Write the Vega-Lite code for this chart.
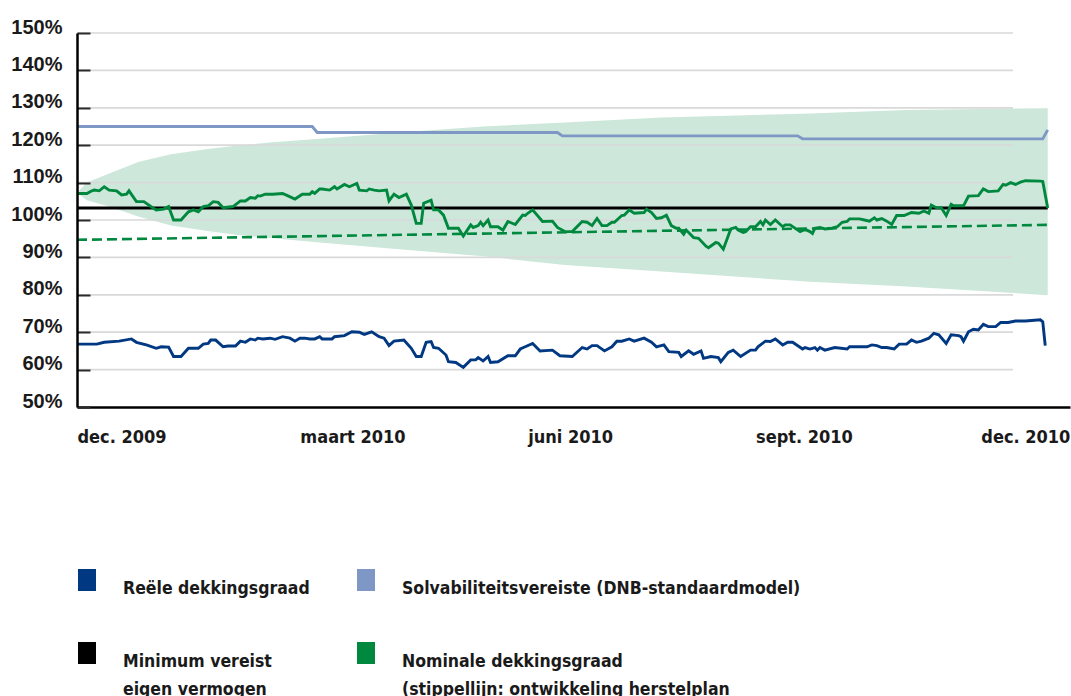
{
  "$schema": "https://vega.github.io/schema/vega-lite/v6.json",
  "width": 993,
  "height": 374,
  "autosize": {"type": "none"},
  "padding": {"left": 77, "top": 33, "right": 1, "bottom": 289},
  "background": "white",
  "config": {"view": {"stroke": null}, "font": "Liberation Sans"},
  "datasets": {
    "bandbreedte": [
      {"datum": "2009-12-01", "boven": 107.3, "onder": 107.3},
      {"datum": "2009-12-05", "boven": 110.0, "onder": 105.3},
      {"datum": "2009-12-14", "boven": 112.4, "onder": 103.6},
      {"datum": "2009-12-26", "boven": 115.6, "onder": 100.9},
      {"datum": "2010-01-08", "boven": 117.6, "onder": 98.5},
      {"datum": "2010-01-22", "boven": 118.9, "onder": 97.1},
      {"datum": "2010-02-04", "boven": 119.9, "onder": 96.0},
      {"datum": "2010-02-18", "boven": 120.8, "onder": 95.1},
      {"datum": "2010-03-09", "boven": 121.7, "onder": 94.0},
      {"datum": "2010-04-10", "boven": 123.4, "onder": 92.2},
      {"datum": "2010-05-14", "boven": 125.0, "onder": 90.3},
      {"datum": "2010-06-16", "boven": 126.1, "onder": 88.0},
      {"datum": "2010-07-25", "boven": 127.4, "onder": 86.2},
      {"datum": "2010-09-23", "boven": 128.5, "onder": 83.5},
      {"datum": "2010-11-01", "boven": 129.4, "onder": 82.2},
      {"datum": "2010-12-28", "boven": 129.9, "onder": 79.9}
    ],
    "raster": [
      {"waarde": 60}, {"waarde": 70}, {"waarde": 80}, {"waarde": 90}, {"waarde": 100},
      {"waarde": 110}, {"waarde": 120}, {"waarde": 130}, {"waarde": 140}, {"waarde": 150}
    ],
    "herstelplan": [
      {"datum": "2009-12-01", "waarde": 94.7},
      {"datum": "2010-12-28", "waarde": 98.7}
    ],
    "reeksen": [
      {"datum": "2009-12-01", "reeks": "Solvabiliteitsvereiste (DNB-standaardmodel)", "waarde": 125.0},
      {"datum": "2010-03-06", "reeks": "Solvabiliteitsvereiste (DNB-standaardmodel)", "waarde": 125.0},
      {"datum": "2010-03-08", "reeks": "Solvabiliteitsvereiste (DNB-standaardmodel)", "waarde": 123.4},
      {"datum": "2010-06-13", "reeks": "Solvabiliteitsvereiste (DNB-standaardmodel)", "waarde": 123.4},
      {"datum": "2010-06-15", "reeks": "Solvabiliteitsvereiste (DNB-standaardmodel)", "waarde": 122.5},
      {"datum": "2010-09-18", "reeks": "Solvabiliteitsvereiste (DNB-standaardmodel)", "waarde": 122.5},
      {"datum": "2010-09-20", "reeks": "Solvabiliteitsvereiste (DNB-standaardmodel)", "waarde": 121.7},
      {"datum": "2010-12-26", "reeks": "Solvabiliteitsvereiste (DNB-standaardmodel)", "waarde": 121.7},
      {"datum": "2010-12-28", "reeks": "Solvabiliteitsvereiste (DNB-standaardmodel)", "waarde": 124.1},
      {"datum": "2009-12-01", "reeks": "Minimum vereist eigen vermogen", "waarde": 103.2},
      {"datum": "2010-12-28", "reeks": "Minimum vereist eigen vermogen", "waarde": 103.2},
      {"datum": "2009-12-01", "reeks": "Reële dekkingsgraad", "waarde": 66.8},
      {"datum": "2009-12-09", "reeks": "Reële dekkingsgraad", "waarde": 66.8},
      {"datum": "2009-12-12", "reeks": "Reële dekkingsgraad", "waarde": 67.3},
      {"datum": "2009-12-18", "reeks": "Reële dekkingsgraad", "waarde": 67.6},
      {"datum": "2009-12-23", "reeks": "Reële dekkingsgraad", "waarde": 68.2},
      {"datum": "2009-12-25", "reeks": "Reële dekkingsgraad", "waarde": 67.3},
      {"datum": "2009-12-29", "reeks": "Reële dekkingsgraad", "waarde": 66.6},
      {"datum": "2010-01-02", "reeks": "Reële dekkingsgraad", "waarde": 65.7},
      {"datum": "2010-01-04", "reeks": "Reële dekkingsgraad", "waarde": 66.1},
      {"datum": "2010-01-07", "reeks": "Reële dekkingsgraad", "waarde": 66.0},
      {"datum": "2010-01-09", "reeks": "Reële dekkingsgraad", "waarde": 63.5},
      {"datum": "2010-01-12", "reeks": "Reële dekkingsgraad", "waarde": 63.5},
      {"datum": "2010-01-15", "reeks": "Reële dekkingsgraad", "waarde": 65.7},
      {"datum": "2010-01-19", "reeks": "Reële dekkingsgraad", "waarde": 65.7},
      {"datum": "2010-01-21", "reeks": "Reële dekkingsgraad", "waarde": 66.8},
      {"datum": "2010-01-23", "reeks": "Reële dekkingsgraad", "waarde": 67.0},
      {"datum": "2010-01-24", "reeks": "Reële dekkingsgraad", "waarde": 67.9},
      {"datum": "2010-01-26", "reeks": "Reële dekkingsgraad", "waarde": 67.9},
      {"datum": "2010-01-29", "reeks": "Reële dekkingsgraad", "waarde": 66.1},
      {"datum": "2010-01-31", "reeks": "Reële dekkingsgraad", "waarde": 66.3},
      {"datum": "2010-02-03", "reeks": "Reële dekkingsgraad", "waarde": 66.3},
      {"datum": "2010-02-05", "reeks": "Reële dekkingsgraad", "waarde": 67.6},
      {"datum": "2010-02-07", "reeks": "Reële dekkingsgraad", "waarde": 67.3},
      {"datum": "2010-02-09", "reeks": "Reële dekkingsgraad", "waarde": 68.2},
      {"datum": "2010-02-11", "reeks": "Reële dekkingsgraad", "waarde": 67.9},
      {"datum": "2010-02-12", "reeks": "Reële dekkingsgraad", "waarde": 68.4},
      {"datum": "2010-02-14", "reeks": "Reële dekkingsgraad", "waarde": 68.2},
      {"datum": "2010-02-17", "reeks": "Reële dekkingsgraad", "waarde": 68.4},
      {"datum": "2010-02-19", "reeks": "Reële dekkingsgraad", "waarde": 68.1},
      {"datum": "2010-02-22", "reeks": "Reële dekkingsgraad", "waarde": 68.8},
      {"datum": "2010-02-25", "reeks": "Reële dekkingsgraad", "waarde": 68.4},
      {"datum": "2010-02-27", "reeks": "Reële dekkingsgraad", "waarde": 67.6},
      {"datum": "2010-03-01", "reeks": "Reële dekkingsgraad", "waarde": 68.4},
      {"datum": "2010-03-03", "reeks": "Reële dekkingsgraad", "waarde": 68.4},
      {"datum": "2010-03-05", "reeks": "Reële dekkingsgraad", "waarde": 68.2},
      {"datum": "2010-03-07", "reeks": "Reële dekkingsgraad", "waarde": 68.2},
      {"datum": "2010-03-09", "reeks": "Reële dekkingsgraad", "waarde": 68.8},
      {"datum": "2010-03-10", "reeks": "Reële dekkingsgraad", "waarde": 68.2},
      {"datum": "2010-03-14", "reeks": "Reële dekkingsgraad", "waarde": 68.2},
      {"datum": "2010-03-15", "reeks": "Reële dekkingsgraad", "waarde": 68.8},
      {"datum": "2010-03-19", "reeks": "Reële dekkingsgraad", "waarde": 69.1},
      {"datum": "2010-03-22", "reeks": "Reële dekkingsgraad", "waarde": 70.1},
      {"datum": "2010-03-25", "reeks": "Reële dekkingsgraad", "waarde": 70.0},
      {"datum": "2010-03-27", "reeks": "Reële dekkingsgraad", "waarde": 69.4},
      {"datum": "2010-03-30", "reeks": "Reële dekkingsgraad", "waarde": 70.1},
      {"datum": "2010-04-02", "reeks": "Reële dekkingsgraad", "waarde": 68.8},
      {"datum": "2010-04-04", "reeks": "Reële dekkingsgraad", "waarde": 68.4},
      {"datum": "2010-04-06", "reeks": "Reële dekkingsgraad", "waarde": 66.4},
      {"datum": "2010-04-08", "reeks": "Reële dekkingsgraad", "waarde": 67.6},
      {"datum": "2010-04-12", "reeks": "Reële dekkingsgraad", "waarde": 67.9},
      {"datum": "2010-04-15", "reeks": "Reële dekkingsgraad", "waarde": 65.7},
      {"datum": "2010-04-17", "reeks": "Reële dekkingsgraad", "waarde": 63.5},
      {"datum": "2010-04-19", "reeks": "Reële dekkingsgraad", "waarde": 63.5},
      {"datum": "2010-04-21", "reeks": "Reële dekkingsgraad", "waarde": 67.3},
      {"datum": "2010-04-23", "reeks": "Reële dekkingsgraad", "waarde": 67.5},
      {"datum": "2010-04-24", "reeks": "Reële dekkingsgraad", "waarde": 65.9},
      {"datum": "2010-04-26", "reeks": "Reële dekkingsgraad", "waarde": 65.7},
      {"datum": "2010-04-29", "reeks": "Reële dekkingsgraad", "waarde": 63.9},
      {"datum": "2010-04-30", "reeks": "Reële dekkingsgraad", "waarde": 62.1},
      {"datum": "2010-05-03", "reeks": "Reële dekkingsgraad", "waarde": 61.9},
      {"datum": "2010-05-06", "reeks": "Reële dekkingsgraad", "waarde": 60.6},
      {"datum": "2010-05-09", "reeks": "Reële dekkingsgraad", "waarde": 62.6},
      {"datum": "2010-05-11", "reeks": "Reële dekkingsgraad", "waarde": 62.6},
      {"datum": "2010-05-12", "reeks": "Reële dekkingsgraad", "waarde": 63.2},
      {"datum": "2010-05-14", "reeks": "Reële dekkingsgraad", "waarde": 62.3},
      {"datum": "2010-05-16", "reeks": "Reële dekkingsgraad", "waarde": 63.5},
      {"datum": "2010-05-17", "reeks": "Reële dekkingsgraad", "waarde": 61.9},
      {"datum": "2010-05-20", "reeks": "Reële dekkingsgraad", "waarde": 62.1},
      {"datum": "2010-05-24", "reeks": "Reële dekkingsgraad", "waarde": 63.7},
      {"datum": "2010-05-27", "reeks": "Reële dekkingsgraad", "waarde": 63.7},
      {"datum": "2010-05-29", "reeks": "Reële dekkingsgraad", "waarde": 65.5},
      {"datum": "2010-05-31", "reeks": "Reële dekkingsgraad", "waarde": 66.1},
      {"datum": "2010-06-03", "reeks": "Reële dekkingsgraad", "waarde": 67.0},
      {"datum": "2010-06-06", "reeks": "Reële dekkingsgraad", "waarde": 65.0},
      {"datum": "2010-06-11", "reeks": "Reële dekkingsgraad", "waarde": 65.2},
      {"datum": "2010-06-14", "reeks": "Reële dekkingsgraad", "waarde": 63.7},
      {"datum": "2010-06-19", "reeks": "Reële dekkingsgraad", "waarde": 63.5},
      {"datum": "2010-06-23", "reeks": "Reële dekkingsgraad", "waarde": 65.9},
      {"datum": "2010-06-25", "reeks": "Reële dekkingsgraad", "waarde": 65.5},
      {"datum": "2010-06-27", "reeks": "Reële dekkingsgraad", "waarde": 66.4},
      {"datum": "2010-06-29", "reeks": "Reële dekkingsgraad", "waarde": 66.4},
      {"datum": "2010-07-02", "reeks": "Reële dekkingsgraad", "waarde": 65.0},
      {"datum": "2010-07-05", "reeks": "Reële dekkingsgraad", "waarde": 66.1},
      {"datum": "2010-07-07", "reeks": "Reële dekkingsgraad", "waarde": 67.6},
      {"datum": "2010-07-09", "reeks": "Reële dekkingsgraad", "waarde": 67.6},
      {"datum": "2010-07-12", "reeks": "Reële dekkingsgraad", "waarde": 68.2},
      {"datum": "2010-07-14", "reeks": "Reële dekkingsgraad", "waarde": 67.6},
      {"datum": "2010-07-18", "reeks": "Reële dekkingsgraad", "waarde": 68.4},
      {"datum": "2010-07-21", "reeks": "Reële dekkingsgraad", "waarde": 67.3},
      {"datum": "2010-07-23", "reeks": "Reële dekkingsgraad", "waarde": 66.1},
      {"datum": "2010-07-26", "reeks": "Reële dekkingsgraad", "waarde": 66.6},
      {"datum": "2010-07-28", "reeks": "Reële dekkingsgraad", "waarde": 64.8},
      {"datum": "2010-08-01", "reeks": "Reële dekkingsgraad", "waarde": 64.6},
      {"datum": "2010-08-02", "reeks": "Reële dekkingsgraad", "waarde": 63.5},
      {"datum": "2010-08-05", "reeks": "Reële dekkingsgraad", "waarde": 65.0},
      {"datum": "2010-08-07", "reeks": "Reële dekkingsgraad", "waarde": 64.1},
      {"datum": "2010-08-10", "reeks": "Reële dekkingsgraad", "waarde": 65.0},
      {"datum": "2010-08-11", "reeks": "Reële dekkingsgraad", "waarde": 63.0},
      {"datum": "2010-08-14", "reeks": "Reële dekkingsgraad", "waarde": 63.5},
      {"datum": "2010-08-17", "reeks": "Reële dekkingsgraad", "waarde": 63.2},
      {"datum": "2010-08-18", "reeks": "Reële dekkingsgraad", "waarde": 62.1},
      {"datum": "2010-08-21", "reeks": "Reële dekkingsgraad", "waarde": 64.6},
      {"datum": "2010-08-23", "reeks": "Reële dekkingsgraad", "waarde": 65.2},
      {"datum": "2010-08-26", "reeks": "Reële dekkingsgraad", "waarde": 63.5},
      {"datum": "2010-08-30", "reeks": "Reële dekkingsgraad", "waarde": 65.2},
      {"datum": "2010-09-01", "reeks": "Reële dekkingsgraad", "waarde": 65.2},
      {"datum": "2010-09-02", "reeks": "Reële dekkingsgraad", "waarde": 66.1},
      {"datum": "2010-09-05", "reeks": "Reële dekkingsgraad", "waarde": 67.6},
      {"datum": "2010-09-07", "reeks": "Reële dekkingsgraad", "waarde": 67.5},
      {"datum": "2010-09-09", "reeks": "Reële dekkingsgraad", "waarde": 68.2},
      {"datum": "2010-09-12", "reeks": "Reële dekkingsgraad", "waarde": 66.6},
      {"datum": "2010-09-14", "reeks": "Reële dekkingsgraad", "waarde": 67.3},
      {"datum": "2010-09-16", "reeks": "Reële dekkingsgraad", "waarde": 67.3},
      {"datum": "2010-09-20", "reeks": "Reële dekkingsgraad", "waarde": 65.5},
      {"datum": "2010-09-21", "reeks": "Reële dekkingsgraad", "waarde": 65.9},
      {"datum": "2010-09-23", "reeks": "Reële dekkingsgraad", "waarde": 65.5},
      {"datum": "2010-09-25", "reeks": "Reële dekkingsgraad", "waarde": 65.9},
      {"datum": "2010-09-26", "reeks": "Reële dekkingsgraad", "waarde": 65.2},
      {"datum": "2010-09-27", "reeks": "Reële dekkingsgraad", "waarde": 65.9},
      {"datum": "2010-09-29", "reeks": "Reële dekkingsgraad", "waarde": 65.2},
      {"datum": "2010-10-03", "reeks": "Reële dekkingsgraad", "waarde": 65.9},
      {"datum": "2010-10-08", "reeks": "Reële dekkingsgraad", "waarde": 65.5},
      {"datum": "2010-10-09", "reeks": "Reële dekkingsgraad", "waarde": 66.1},
      {"datum": "2010-10-16", "reeks": "Reële dekkingsgraad", "waarde": 66.1},
      {"datum": "2010-10-18", "reeks": "Reële dekkingsgraad", "waarde": 66.6},
      {"datum": "2010-10-20", "reeks": "Reële dekkingsgraad", "waarde": 66.4},
      {"datum": "2010-10-22", "reeks": "Reële dekkingsgraad", "waarde": 65.9},
      {"datum": "2010-10-24", "reeks": "Reële dekkingsgraad", "waarde": 65.9},
      {"datum": "2010-10-27", "reeks": "Reële dekkingsgraad", "waarde": 65.5},
      {"datum": "2010-10-29", "reeks": "Reële dekkingsgraad", "waarde": 66.8},
      {"datum": "2010-11-01", "reeks": "Reële dekkingsgraad", "waarde": 66.8},
      {"datum": "2010-11-03", "reeks": "Reële dekkingsgraad", "waarde": 67.9},
      {"datum": "2010-11-05", "reeks": "Reële dekkingsgraad", "waarde": 67.3},
      {"datum": "2010-11-07", "reeks": "Reële dekkingsgraad", "waarde": 67.6},
      {"datum": "2010-11-10", "reeks": "Reële dekkingsgraad", "waarde": 68.4},
      {"datum": "2010-11-12", "reeks": "Reële dekkingsgraad", "waarde": 69.7},
      {"datum": "2010-11-14", "reeks": "Reële dekkingsgraad", "waarde": 69.3},
      {"datum": "2010-11-17", "reeks": "Reële dekkingsgraad", "waarde": 67.0},
      {"datum": "2010-11-19", "reeks": "Reële dekkingsgraad", "waarde": 69.3},
      {"datum": "2010-11-22", "reeks": "Reële dekkingsgraad", "waarde": 69.1},
      {"datum": "2010-11-23", "reeks": "Reële dekkingsgraad", "waarde": 68.8},
      {"datum": "2010-11-24", "reeks": "Reële dekkingsgraad", "waarde": 67.6},
      {"datum": "2010-11-26", "reeks": "Reële dekkingsgraad", "waarde": 70.1},
      {"datum": "2010-11-28", "reeks": "Reële dekkingsgraad", "waarde": 70.8},
      {"datum": "2010-11-30", "reeks": "Reële dekkingsgraad", "waarde": 70.6},
      {"datum": "2010-12-02", "reeks": "Reële dekkingsgraad", "waarde": 72.1},
      {"datum": "2010-12-04", "reeks": "Reële dekkingsgraad", "waarde": 71.5},
      {"datum": "2010-12-07", "reeks": "Reële dekkingsgraad", "waarde": 71.5},
      {"datum": "2010-12-09", "reeks": "Reële dekkingsgraad", "waarde": 72.6},
      {"datum": "2010-12-12", "reeks": "Reële dekkingsgraad", "waarde": 72.6},
      {"datum": "2010-12-15", "reeks": "Reële dekkingsgraad", "waarde": 73.0},
      {"datum": "2010-12-19", "reeks": "Reële dekkingsgraad", "waarde": 73.0},
      {"datum": "2010-12-25", "reeks": "Reële dekkingsgraad", "waarde": 73.3},
      {"datum": "2010-12-26", "reeks": "Reële dekkingsgraad", "waarde": 72.8},
      {"datum": "2010-12-27", "reeks": "Reële dekkingsgraad", "waarde": 66.4},
      {"datum": "2009-12-01", "reeks": "Nominale dekkingsgraad", "waarde": 107.1},
      {"datum": "2009-12-05", "reeks": "Nominale dekkingsgraad", "waarde": 107.1},
      {"datum": "2009-12-07", "reeks": "Nominale dekkingsgraad", "waarde": 107.8},
      {"datum": "2009-12-08", "reeks": "Nominale dekkingsgraad", "waarde": 108.0},
      {"datum": "2009-12-10", "reeks": "Nominale dekkingsgraad", "waarde": 107.8},
      {"datum": "2009-12-12", "reeks": "Nominale dekkingsgraad", "waarde": 108.9},
      {"datum": "2009-12-14", "reeks": "Nominale dekkingsgraad", "waarde": 108.0},
      {"datum": "2009-12-17", "reeks": "Nominale dekkingsgraad", "waarde": 107.8},
      {"datum": "2009-12-19", "reeks": "Nominale dekkingsgraad", "waarde": 106.7},
      {"datum": "2009-12-21", "reeks": "Nominale dekkingsgraad", "waarde": 106.9},
      {"datum": "2009-12-22", "reeks": "Nominale dekkingsgraad", "waarde": 107.8},
      {"datum": "2009-12-25", "reeks": "Nominale dekkingsgraad", "waarde": 104.9},
      {"datum": "2009-12-28", "reeks": "Nominale dekkingsgraad", "waarde": 104.9},
      {"datum": "2010-01-01", "reeks": "Nominale dekkingsgraad", "waarde": 103.1},
      {"datum": "2010-01-02", "reeks": "Nominale dekkingsgraad", "waarde": 102.7},
      {"datum": "2010-01-05", "reeks": "Nominale dekkingsgraad", "waarde": 102.9},
      {"datum": "2010-01-07", "reeks": "Nominale dekkingsgraad", "waarde": 103.6},
      {"datum": "2010-01-09", "reeks": "Nominale dekkingsgraad", "waarde": 100.0},
      {"datum": "2010-01-12", "reeks": "Nominale dekkingsgraad", "waarde": 100.0},
      {"datum": "2010-01-15", "reeks": "Nominale dekkingsgraad", "waarde": 102.2},
      {"datum": "2010-01-17", "reeks": "Nominale dekkingsgraad", "waarde": 102.7},
      {"datum": "2010-01-19", "reeks": "Nominale dekkingsgraad", "waarde": 102.2},
      {"datum": "2010-01-21", "reeks": "Nominale dekkingsgraad", "waarde": 103.6},
      {"datum": "2010-01-23", "reeks": "Nominale dekkingsgraad", "waarde": 103.8},
      {"datum": "2010-01-25", "reeks": "Nominale dekkingsgraad", "waarde": 104.9},
      {"datum": "2010-01-27", "reeks": "Nominale dekkingsgraad", "waarde": 104.7},
      {"datum": "2010-01-29", "reeks": "Nominale dekkingsgraad", "waarde": 103.3},
      {"datum": "2010-02-02", "reeks": "Nominale dekkingsgraad", "waarde": 103.6},
      {"datum": "2010-02-05", "reeks": "Nominale dekkingsgraad", "waarde": 105.1},
      {"datum": "2010-02-07", "reeks": "Nominale dekkingsgraad", "waarde": 105.1},
      {"datum": "2010-02-09", "reeks": "Nominale dekkingsgraad", "waarde": 106.0},
      {"datum": "2010-02-11", "reeks": "Nominale dekkingsgraad", "waarde": 105.8},
      {"datum": "2010-02-12", "reeks": "Nominale dekkingsgraad", "waarde": 106.5},
      {"datum": "2010-02-13", "reeks": "Nominale dekkingsgraad", "waarde": 106.4},
      {"datum": "2010-02-15", "reeks": "Nominale dekkingsgraad", "waarde": 106.9},
      {"datum": "2010-02-18", "reeks": "Nominale dekkingsgraad", "waarde": 106.9},
      {"datum": "2010-02-22", "reeks": "Nominale dekkingsgraad", "waarde": 107.1},
      {"datum": "2010-02-24", "reeks": "Nominale dekkingsgraad", "waarde": 106.5},
      {"datum": "2010-02-27", "reeks": "Nominale dekkingsgraad", "waarde": 105.6},
      {"datum": "2010-03-02", "reeks": "Nominale dekkingsgraad", "waarde": 106.9},
      {"datum": "2010-03-05", "reeks": "Nominale dekkingsgraad", "waarde": 106.9},
      {"datum": "2010-03-06", "reeks": "Nominale dekkingsgraad", "waarde": 107.6},
      {"datum": "2010-03-07", "reeks": "Nominale dekkingsgraad", "waarde": 107.1},
      {"datum": "2010-03-09", "reeks": "Nominale dekkingsgraad", "waarde": 108.3},
      {"datum": "2010-03-10", "reeks": "Nominale dekkingsgraad", "waarde": 108.3},
      {"datum": "2010-03-13", "reeks": "Nominale dekkingsgraad", "waarde": 108.0},
      {"datum": "2010-03-15", "reeks": "Nominale dekkingsgraad", "waarde": 108.9},
      {"datum": "2010-03-16", "reeks": "Nominale dekkingsgraad", "waarde": 108.3},
      {"datum": "2010-03-19", "reeks": "Nominale dekkingsgraad", "waarde": 109.5},
      {"datum": "2010-03-21", "reeks": "Nominale dekkingsgraad", "waarde": 108.9},
      {"datum": "2010-03-24", "reeks": "Nominale dekkingsgraad", "waarde": 109.8},
      {"datum": "2010-03-25", "reeks": "Nominale dekkingsgraad", "waarde": 108.0},
      {"datum": "2010-03-28", "reeks": "Nominale dekkingsgraad", "waarde": 107.8},
      {"datum": "2010-03-29", "reeks": "Nominale dekkingsgraad", "waarde": 108.3},
      {"datum": "2010-03-31", "reeks": "Nominale dekkingsgraad", "waarde": 108.0},
      {"datum": "2010-04-02", "reeks": "Nominale dekkingsgraad", "waarde": 107.8},
      {"datum": "2010-04-05", "reeks": "Nominale dekkingsgraad", "waarde": 108.0},
      {"datum": "2010-04-06", "reeks": "Nominale dekkingsgraad", "waarde": 105.1},
      {"datum": "2010-04-08", "reeks": "Nominale dekkingsgraad", "waarde": 106.9},
      {"datum": "2010-04-10", "reeks": "Nominale dekkingsgraad", "waarde": 106.0},
      {"datum": "2010-04-13", "reeks": "Nominale dekkingsgraad", "waarde": 106.9},
      {"datum": "2010-04-15", "reeks": "Nominale dekkingsgraad", "waarde": 104.0},
      {"datum": "2010-04-17", "reeks": "Nominale dekkingsgraad", "waarde": 99.1},
      {"datum": "2010-04-19", "reeks": "Nominale dekkingsgraad", "waarde": 99.1},
      {"datum": "2010-04-20", "reeks": "Nominale dekkingsgraad", "waarde": 104.5},
      {"datum": "2010-04-23", "reeks": "Nominale dekkingsgraad", "waarde": 105.3},
      {"datum": "2010-04-24", "reeks": "Nominale dekkingsgraad", "waarde": 102.7},
      {"datum": "2010-04-26", "reeks": "Nominale dekkingsgraad", "waarde": 102.7},
      {"datum": "2010-04-28", "reeks": "Nominale dekkingsgraad", "waarde": 101.3},
      {"datum": "2010-04-30", "reeks": "Nominale dekkingsgraad", "waarde": 97.8},
      {"datum": "2010-05-04", "reeks": "Nominale dekkingsgraad", "waarde": 97.8},
      {"datum": "2010-05-06", "reeks": "Nominale dekkingsgraad", "waarde": 95.7},
      {"datum": "2010-05-09", "reeks": "Nominale dekkingsgraad", "waarde": 98.7},
      {"datum": "2010-05-10", "reeks": "Nominale dekkingsgraad", "waarde": 98.0},
      {"datum": "2010-05-12", "reeks": "Nominale dekkingsgraad", "waarde": 98.5},
      {"datum": "2010-05-13", "reeks": "Nominale dekkingsgraad", "waarde": 99.4},
      {"datum": "2010-05-14", "reeks": "Nominale dekkingsgraad", "waarde": 98.5},
      {"datum": "2010-05-16", "reeks": "Nominale dekkingsgraad", "waarde": 100.0},
      {"datum": "2010-05-17", "reeks": "Nominale dekkingsgraad", "waarde": 98.2},
      {"datum": "2010-05-20", "reeks": "Nominale dekkingsgraad", "waarde": 98.2},
      {"datum": "2010-05-22", "reeks": "Nominale dekkingsgraad", "waarde": 97.3},
      {"datum": "2010-05-24", "reeks": "Nominale dekkingsgraad", "waarde": 99.6},
      {"datum": "2010-05-27", "reeks": "Nominale dekkingsgraad", "waarde": 98.8},
      {"datum": "2010-05-30", "reeks": "Nominale dekkingsgraad", "waarde": 101.3},
      {"datum": "2010-05-31", "reeks": "Nominale dekkingsgraad", "waarde": 101.2},
      {"datum": "2010-06-01", "reeks": "Nominale dekkingsgraad", "waarde": 101.8},
      {"datum": "2010-06-03", "reeks": "Nominale dekkingsgraad", "waarde": 102.7},
      {"datum": "2010-06-07", "reeks": "Nominale dekkingsgraad", "waarde": 99.6},
      {"datum": "2010-06-11", "reeks": "Nominale dekkingsgraad", "waarde": 99.7},
      {"datum": "2010-06-13", "reeks": "Nominale dekkingsgraad", "waarde": 98.0},
      {"datum": "2010-06-16", "reeks": "Nominale dekkingsgraad", "waarde": 96.9},
      {"datum": "2010-06-19", "reeks": "Nominale dekkingsgraad", "waarde": 96.9},
      {"datum": "2010-06-23", "reeks": "Nominale dekkingsgraad", "waarde": 99.6},
      {"datum": "2010-06-25", "reeks": "Nominale dekkingsgraad", "waarde": 99.4},
      {"datum": "2010-06-27", "reeks": "Nominale dekkingsgraad", "waarde": 98.5},
      {"datum": "2010-06-29", "reeks": "Nominale dekkingsgraad", "waarde": 100.4},
      {"datum": "2010-07-01", "reeks": "Nominale dekkingsgraad", "waarde": 98.5},
      {"datum": "2010-07-03", "reeks": "Nominale dekkingsgraad", "waarde": 98.5},
      {"datum": "2010-07-05", "reeks": "Nominale dekkingsgraad", "waarde": 99.4},
      {"datum": "2010-07-06", "reeks": "Nominale dekkingsgraad", "waarde": 99.4},
      {"datum": "2010-07-09", "reeks": "Nominale dekkingsgraad", "waarde": 101.2},
      {"datum": "2010-07-10", "reeks": "Nominale dekkingsgraad", "waarde": 101.3},
      {"datum": "2010-07-12", "reeks": "Nominale dekkingsgraad", "waarde": 102.7},
      {"datum": "2010-07-14", "reeks": "Nominale dekkingsgraad", "waarde": 101.8},
      {"datum": "2010-07-18", "reeks": "Nominale dekkingsgraad", "waarde": 102.0},
      {"datum": "2010-07-19", "reeks": "Nominale dekkingsgraad", "waarde": 102.9},
      {"datum": "2010-07-21", "reeks": "Nominale dekkingsgraad", "waarde": 102.0},
      {"datum": "2010-07-23", "reeks": "Nominale dekkingsgraad", "waarde": 100.4},
      {"datum": "2010-07-25", "reeks": "Nominale dekkingsgraad", "waarde": 100.6},
      {"datum": "2010-07-27", "reeks": "Nominale dekkingsgraad", "waarde": 101.3},
      {"datum": "2010-07-29", "reeks": "Nominale dekkingsgraad", "waarde": 98.5},
      {"datum": "2010-07-31", "reeks": "Nominale dekkingsgraad", "waarde": 97.8},
      {"datum": "2010-08-01", "reeks": "Nominale dekkingsgraad", "waarde": 97.8},
      {"datum": "2010-08-03", "reeks": "Nominale dekkingsgraad", "waarde": 96.2},
      {"datum": "2010-08-04", "reeks": "Nominale dekkingsgraad", "waarde": 97.3},
      {"datum": "2010-08-07", "reeks": "Nominale dekkingsgraad", "waarde": 95.3},
      {"datum": "2010-08-09", "reeks": "Nominale dekkingsgraad", "waarde": 95.1},
      {"datum": "2010-08-12", "reeks": "Nominale dekkingsgraad", "waarde": 93.0},
      {"datum": "2010-08-13", "reeks": "Nominale dekkingsgraad", "waarde": 92.6},
      {"datum": "2010-08-16", "reeks": "Nominale dekkingsgraad", "waarde": 94.0},
      {"datum": "2010-08-17", "reeks": "Nominale dekkingsgraad", "waarde": 93.8},
      {"datum": "2010-08-19", "reeks": "Nominale dekkingsgraad", "waarde": 92.2},
      {"datum": "2010-08-22", "reeks": "Nominale dekkingsgraad", "waarde": 97.6},
      {"datum": "2010-08-24", "reeks": "Nominale dekkingsgraad", "waarde": 98.0},
      {"datum": "2010-08-25", "reeks": "Nominale dekkingsgraad", "waarde": 97.3},
      {"datum": "2010-08-27", "reeks": "Nominale dekkingsgraad", "waarde": 96.7},
      {"datum": "2010-08-28", "reeks": "Nominale dekkingsgraad", "waarde": 96.9},
      {"datum": "2010-08-30", "reeks": "Nominale dekkingsgraad", "waarde": 98.2},
      {"datum": "2010-09-01", "reeks": "Nominale dekkingsgraad", "waarde": 98.2},
      {"datum": "2010-09-03", "reeks": "Nominale dekkingsgraad", "waarde": 99.6},
      {"datum": "2010-09-04", "reeks": "Nominale dekkingsgraad", "waarde": 98.7},
      {"datum": "2010-09-05", "reeks": "Nominale dekkingsgraad", "waarde": 100.0},
      {"datum": "2010-09-07", "reeks": "Nominale dekkingsgraad", "waarde": 98.8},
      {"datum": "2010-09-09", "reeks": "Nominale dekkingsgraad", "waarde": 100.0},
      {"datum": "2010-09-12", "reeks": "Nominale dekkingsgraad", "waarde": 98.2},
      {"datum": "2010-09-13", "reeks": "Nominale dekkingsgraad", "waarde": 98.7},
      {"datum": "2010-09-15", "reeks": "Nominale dekkingsgraad", "waarde": 98.7},
      {"datum": "2010-09-19", "reeks": "Nominale dekkingsgraad", "waarde": 96.9},
      {"datum": "2010-09-21", "reeks": "Nominale dekkingsgraad", "waarde": 97.5},
      {"datum": "2010-09-23", "reeks": "Nominale dekkingsgraad", "waarde": 96.9},
      {"datum": "2010-09-24", "reeks": "Nominale dekkingsgraad", "waarde": 96.4},
      {"datum": "2010-09-25", "reeks": "Nominale dekkingsgraad", "waarde": 97.8},
      {"datum": "2010-09-27", "reeks": "Nominale dekkingsgraad", "waarde": 98.0},
      {"datum": "2010-09-29", "reeks": "Nominale dekkingsgraad", "waarde": 97.6},
      {"datum": "2010-10-02", "reeks": "Nominale dekkingsgraad", "waarde": 97.8},
      {"datum": "2010-10-04", "reeks": "Nominale dekkingsgraad", "waarde": 98.2},
      {"datum": "2010-10-06", "reeks": "Nominale dekkingsgraad", "waarde": 99.4},
      {"datum": "2010-10-08", "reeks": "Nominale dekkingsgraad", "waarde": 99.6},
      {"datum": "2010-10-09", "reeks": "Nominale dekkingsgraad", "waarde": 100.3},
      {"datum": "2010-10-13", "reeks": "Nominale dekkingsgraad", "waarde": 100.3},
      {"datum": "2010-10-15", "reeks": "Nominale dekkingsgraad", "waarde": 100.0},
      {"datum": "2010-10-17", "reeks": "Nominale dekkingsgraad", "waarde": 99.7},
      {"datum": "2010-10-19", "reeks": "Nominale dekkingsgraad", "waarde": 100.6},
      {"datum": "2010-10-20", "reeks": "Nominale dekkingsgraad", "waarde": 100.0},
      {"datum": "2010-10-22", "reeks": "Nominale dekkingsgraad", "waarde": 100.4},
      {"datum": "2010-10-24", "reeks": "Nominale dekkingsgraad", "waarde": 99.7},
      {"datum": "2010-10-26", "reeks": "Nominale dekkingsgraad", "waarde": 98.8},
      {"datum": "2010-10-28", "reeks": "Nominale dekkingsgraad", "waarde": 101.2},
      {"datum": "2010-10-31", "reeks": "Nominale dekkingsgraad", "waarde": 101.2},
      {"datum": "2010-11-03", "reeks": "Nominale dekkingsgraad", "waarde": 102.0},
      {"datum": "2010-11-06", "reeks": "Nominale dekkingsgraad", "waarde": 101.8},
      {"datum": "2010-11-08", "reeks": "Nominale dekkingsgraad", "waarde": 102.4},
      {"datum": "2010-11-10", "reeks": "Nominale dekkingsgraad", "waarde": 101.8},
      {"datum": "2010-11-11", "reeks": "Nominale dekkingsgraad", "waarde": 104.0},
      {"datum": "2010-11-13", "reeks": "Nominale dekkingsgraad", "waarde": 103.3},
      {"datum": "2010-11-15", "reeks": "Nominale dekkingsgraad", "waarde": 103.3},
      {"datum": "2010-11-17", "reeks": "Nominale dekkingsgraad", "waarde": 101.2},
      {"datum": "2010-11-19", "reeks": "Nominale dekkingsgraad", "waarde": 104.2},
      {"datum": "2010-11-20", "reeks": "Nominale dekkingsgraad", "waarde": 103.8},
      {"datum": "2010-11-24", "reeks": "Nominale dekkingsgraad", "waarde": 103.8},
      {"datum": "2010-11-26", "reeks": "Nominale dekkingsgraad", "waarde": 106.4},
      {"datum": "2010-11-30", "reeks": "Nominale dekkingsgraad", "waarde": 106.5},
      {"datum": "2010-12-02", "reeks": "Nominale dekkingsgraad", "waarde": 108.3},
      {"datum": "2010-12-04", "reeks": "Nominale dekkingsgraad", "waarde": 107.6},
      {"datum": "2010-12-08", "reeks": "Nominale dekkingsgraad", "waarde": 107.8},
      {"datum": "2010-12-10", "reeks": "Nominale dekkingsgraad", "waarde": 109.5},
      {"datum": "2010-12-11", "reeks": "Nominale dekkingsgraad", "waarde": 109.3},
      {"datum": "2010-12-13", "reeks": "Nominale dekkingsgraad", "waarde": 110.0},
      {"datum": "2010-12-15", "reeks": "Nominale dekkingsgraad", "waarde": 109.5},
      {"datum": "2010-12-17", "reeks": "Nominale dekkingsgraad", "waarde": 110.1},
      {"datum": "2010-12-19", "reeks": "Nominale dekkingsgraad", "waarde": 110.5},
      {"datum": "2010-12-25", "reeks": "Nominale dekkingsgraad", "waarde": 110.4},
      {"datum": "2010-12-26", "reeks": "Nominale dekkingsgraad", "waarde": 110.3},
      {"datum": "2010-12-28", "reeks": "Nominale dekkingsgraad", "waarde": 103.2}
    ]
  },
  "layer": [
    {
      "data": {"name": "bandbreedte"},
      "mark": {"type": "area", "color": "#cde8da", "opacity": 1},
      "encoding": {
        "x": {
          "field": "datum", "type": "temporal",
          "scale": {"type": "utc", "domain": [{"year": 2009, "month": 12, "date": 1, "utc": true}, {"year": 2011, "month": 1, "date": 6, "utc": true}]},
          "axis": {
            "title": null,
            "values": [
              {"year": 2009, "month": 12, "date": 1, "utc": true},
              {"year": 2010, "month": 3, "date": 1, "utc": true},
              {"year": 2010, "month": 6, "date": 1, "utc": true},
              {"year": 2010, "month": 9, "date": 1, "utc": true},
              {"year": 2010, "month": 12, "date": 1, "utc": true}
            ],
            "tickCount": 30,
            "labelExpr": "['jan.','feb.','maart','april','mei','juni','juli','aug.','sept.','okt.','nov.','dec.'][utcmonth(datum.value)] + ' ' + utcyear(datum.value)",
            "labelAlign": "left",
            "labelBaseline": "top",
            "labelPadding": 21,
            "ticks": false,
            "grid": false,
            "labelFont": "DejaVu Sans Condensed, Liberation Sans",
            "labelFontWeight": "bold",
            "labelFontSize": 18,
            "labelColor": "#1a1a1a",
            "labelFlush": false,
            "labelOverlap": false,
            "domainColor": "#000000",
            "domainWidth": 2.5,
            "zindex": 1
          }
        },
        "y": {
          "field": "boven", "type": "quantitative",
          "scale": {"domain": [50, 150], "nice": false, "zero": false},
          "axis": {
            "title": null,
            "values": [50, 60, 70, 80, 90, 100, 110, 120, 130, 140, 150],
            "tickCount": 30,
            "labelExpr": "datum.value + '%'",
            "labelFont": "Liberation Sans",
            "labelFontWeight": "bold",
            "labelFontSize": 20,
            "labelColor": "#1a1a1a",
            "labelBaseline": "alphabetic",
            "labelPadding": 28,
            "labelFlush": false,
            "labelOverlap": false,
            "labelBound": false,
            "tickSize": -13,
            "tickColor": "#2b2b2b",
            "tickWidth": 2,
            "domainColor": "#000000",
            "domainWidth": 2.5,
            "grid": false,
            "zindex": 1
          }
        },
        "y2": {"field": "onder"}
      }
    },
    {
      "data": {"name": "raster"},
      "mark": {"type": "rule", "color": "#d9d9d9", "strokeWidth": 1.7},
      "encoding": {
        "y": {"field": "waarde", "type": "quantitative"},
        "x": {"datum": {"year": 2009, "month": 12, "date": 1, "utc": true}, "type": "temporal"},
        "x2": {"datum": {"year": 2010, "month": 12, "date": 14, "utc": true}}
      }
    },
    {
      "data": {"name": "herstelplan"},
      "mark": {"type": "line", "color": "#00883f", "strokeWidth": 2.6, "strokeDash": [10, 5]},
      "encoding": {
        "x": {"field": "datum", "type": "temporal"},
        "y": {"field": "waarde", "type": "quantitative"}
      }
    },
    {
      "data": {"name": "reeksen"},
      "mark": {"type": "line", "strokeWidth": 2.9},
      "encoding": {
        "x": {"field": "datum", "type": "temporal"},
        "y": {"field": "waarde", "type": "quantitative"},
        "color": {
          "field": "reeks", "type": "nominal",
          "scale": {
            "domain": ["Reële dekkingsgraad", "Solvabiliteitsvereiste (DNB-standaardmodel)", "Minimum vereist eigen vermogen", "Nominale dekkingsgraad"],
            "range": ["#003882", "#7f97c4", "#000000", "#00883f"]
          },
          "legend": {
            "orient": "none",
            "legendX": -10,
            "legendY": 527,
            "direction": "horizontal",
            "columns": 2,
            "title": null,
            "symbolType": "stroke",
            "symbolSize": 324,
            "symbolStrokeWidth": 22,
            "symbolOpacity": 1,
            "labelOffset": 16,
            "columnPadding": 3,
            "rowPadding": -15,
            "labelFont": "DejaVu Sans Condensed, Liberation Sans",
            "labelFontWeight": "bold",
            "labelFontSize": 17.5,
            "labelColor": "#1a1a1a",
            "labelBaseline": "top",
            "labelLimit": 600,
            "labelExpr": "datum.label == 'Minimum vereist eigen vermogen' ? ['Minimum vereist', 'eigen vermogen'] : datum.label == 'Nominale dekkingsgraad' ? ['Nominale dekkingsgraad', '(stippellijn: ontwikkeling herstelplan'] : datum.label",
            "encoding": {"labels": {"lineHeight": {"value": 28}}}
          }
        }
      }
    }
  ]
}
